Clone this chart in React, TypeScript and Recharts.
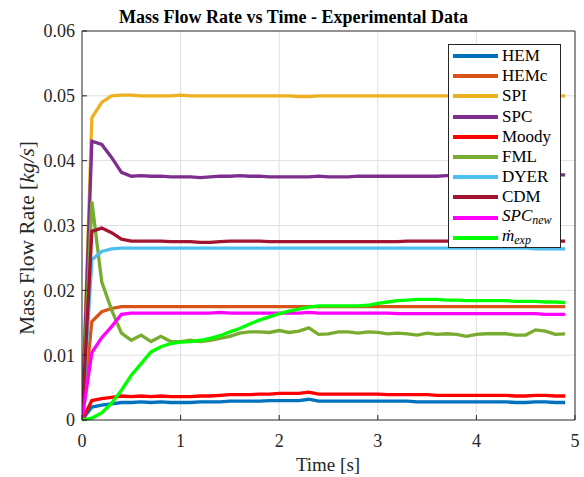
import React from "react";
import {
  LineChart,
  Line,
  XAxis,
  YAxis,
  CartesianGrid,
  Label,
} from "recharts";

const time = [
  0, 0.1, 0.2, 0.3, 0.4, 0.5, 0.6, 0.7, 0.8, 0.9,
  1.0, 1.1, 1.2, 1.3, 1.4, 1.5, 1.6, 1.7, 1.8, 1.9,
  2.0, 2.1, 2.2, 2.3, 2.4, 2.5, 2.6, 2.7, 2.8, 2.9,
  3.0, 3.1, 3.2, 3.3, 3.4, 3.5, 3.6, 3.7, 3.8, 3.9,
  4.0, 4.1, 4.2, 4.3, 4.4, 4.5, 4.6, 4.7, 4.8, 4.9,
];

const hem = [
  0, 0.002, 0.0023, 0.0025, 0.0027, 0.0027, 0.0028, 0.0027, 0.0028, 0.0027,
  0.0027, 0.0027, 0.0028, 0.0028, 0.0028, 0.0029, 0.0029, 0.0029, 0.0029, 0.003,
  0.003, 0.003, 0.003, 0.0032, 0.0029, 0.0029, 0.0029, 0.0029, 0.0029, 0.0029,
  0.0029, 0.0029, 0.0029, 0.0029, 0.0028, 0.0028, 0.0028, 0.0028, 0.0028, 0.0028,
  0.0028, 0.0028, 0.0028, 0.0028, 0.0027, 0.0027, 0.0028, 0.0028, 0.0027, 0.0027,
];

const hemc = [
  0, 0.0152, 0.0167, 0.0172, 0.0175, 0.0175, 0.0175, 0.0175, 0.0175, 0.0175,
  0.0175, 0.0175, 0.0175, 0.0175, 0.0175, 0.0175, 0.0175, 0.0175, 0.0175, 0.0175,
  0.0175, 0.0175, 0.0175, 0.0175, 0.0175, 0.0175, 0.0175, 0.0175, 0.0175, 0.0175,
  0.0175, 0.0175, 0.0175, 0.0175, 0.0175, 0.0175, 0.0175, 0.0175, 0.0175, 0.0175,
  0.0175, 0.0175, 0.0175, 0.0175, 0.0175, 0.0175, 0.0175, 0.0175, 0.0175, 0.0175,
];

const spi = [
  0, 0.0466, 0.049, 0.05, 0.0501, 0.0501, 0.05, 0.05, 0.05, 0.05,
  0.0501, 0.05, 0.05, 0.05, 0.05, 0.05, 0.05, 0.05, 0.05, 0.05,
  0.05, 0.05, 0.0499, 0.0499, 0.05, 0.05, 0.05, 0.05, 0.05, 0.05,
  0.05, 0.05, 0.05, 0.05, 0.05, 0.05, 0.05, 0.05, 0.05, 0.05,
  0.05, 0.05, 0.05, 0.05, 0.05, 0.05, 0.05, 0.05, 0.05, 0.05,
];

const spc = [
  0, 0.043, 0.0425, 0.0405, 0.0382, 0.0376, 0.0377, 0.0376, 0.0376, 0.0375,
  0.0375, 0.0375, 0.0374, 0.0375, 0.0376, 0.0376, 0.0377, 0.0376, 0.0376, 0.0375,
  0.0375, 0.0375, 0.0375, 0.0375, 0.0376, 0.0375, 0.0375, 0.0375, 0.0376, 0.0376,
  0.0376, 0.0376, 0.0376, 0.0376, 0.0376, 0.0376, 0.0376, 0.0377, 0.0377, 0.0377,
  0.0377, 0.0377, 0.0377, 0.0377, 0.0377, 0.0377, 0.0377, 0.0377, 0.0378, 0.0378,
];

const moody = [
  0, 0.003, 0.0033, 0.0035, 0.0037, 0.0036, 0.0037, 0.0036, 0.0037, 0.0036,
  0.0036, 0.0036, 0.0037, 0.0037, 0.0038, 0.0039, 0.0039, 0.0039, 0.004, 0.004,
  0.0041, 0.0041, 0.0041, 0.0043, 0.004, 0.004, 0.004, 0.004, 0.004, 0.004,
  0.004, 0.0039, 0.0039, 0.0039, 0.0039, 0.0039, 0.0038, 0.0038, 0.0038, 0.0038,
  0.0038, 0.0038, 0.0038, 0.0038, 0.0037, 0.0037, 0.0038, 0.0038, 0.0037, 0.0037,
];

const fml = [
  0, 0.0337, 0.0213, 0.017, 0.0134, 0.0123, 0.0131, 0.0121, 0.0129, 0.0121,
  0.0121, 0.0123, 0.0121, 0.0123, 0.0126, 0.0129, 0.0134, 0.0136, 0.0136, 0.0135,
  0.0138, 0.0135, 0.0137, 0.0142, 0.0132, 0.0133, 0.0136, 0.0136, 0.0134, 0.0136,
  0.0135, 0.0133, 0.0134, 0.0133, 0.0131, 0.0134, 0.0132, 0.0133, 0.0132, 0.0129,
  0.0132, 0.0133, 0.0133, 0.0133, 0.0131, 0.0131, 0.0139, 0.0137, 0.0132, 0.0133,
];

const dyer = [
  0, 0.0247, 0.026, 0.0264, 0.0265, 0.0265, 0.0265, 0.0265, 0.0265, 0.0265,
  0.0265, 0.0265, 0.0265, 0.0265, 0.0265, 0.0265, 0.0265, 0.0265, 0.0265, 0.0265,
  0.0265, 0.0265, 0.0265, 0.0265, 0.0265, 0.0265, 0.0265, 0.0265, 0.0265, 0.0265,
  0.0265, 0.0265, 0.0265, 0.0265, 0.0265, 0.0265, 0.0265, 0.0265, 0.0265, 0.0265,
  0.0265, 0.0265, 0.0265, 0.0265, 0.0265, 0.0265, 0.0264, 0.0264, 0.0264, 0.0264,
];

const cdm = [
  0, 0.0291, 0.0296, 0.0289, 0.0279, 0.0276, 0.0276, 0.0276, 0.0276, 0.0275,
  0.0275, 0.0275, 0.0274, 0.0274, 0.0275, 0.0276, 0.0276, 0.0276, 0.0276, 0.0275,
  0.0275, 0.0275, 0.0275, 0.0275, 0.0275, 0.0275, 0.0275, 0.0275, 0.0275, 0.0275,
  0.0275, 0.0275, 0.0275, 0.0276, 0.0276, 0.0276, 0.0276, 0.0276, 0.0276, 0.0276,
  0.0276, 0.0276, 0.0276, 0.0276, 0.0276, 0.0276, 0.0276, 0.0276, 0.0276, 0.0276,
];

const spcNew = [
  0, 0.0104, 0.0127, 0.0144, 0.0163, 0.0165, 0.0165, 0.0165, 0.0165, 0.0165,
  0.0165, 0.0165, 0.0165, 0.0165, 0.0166, 0.0165, 0.0165, 0.0165, 0.0165, 0.0165,
  0.0165, 0.0165, 0.0165, 0.0166, 0.0165, 0.0165, 0.0165, 0.0165, 0.0165, 0.0165,
  0.0165, 0.0165, 0.0164, 0.0164, 0.0164, 0.0164, 0.0164, 0.0164, 0.0164, 0.0164,
  0.0164, 0.0164, 0.0164, 0.0164, 0.0164, 0.0164, 0.0164, 0.0163, 0.0163, 0.0163,
];

const mExp = [
  0, 0.0003, 0.0011, 0.0026, 0.0046, 0.0069, 0.0087, 0.0105, 0.0113, 0.0118,
  0.012, 0.0121, 0.0123, 0.0126, 0.013, 0.0136, 0.0141, 0.0148, 0.0154, 0.0159,
  0.0164, 0.0168, 0.0171, 0.0174, 0.0176, 0.0176, 0.0176, 0.0176, 0.0176, 0.0177,
  0.018, 0.0182, 0.0184, 0.0185, 0.0186, 0.0186, 0.0186, 0.0185, 0.0185, 0.0184,
  0.0184, 0.0184, 0.0184, 0.0184, 0.0183, 0.0183, 0.0183, 0.0182, 0.0182, 0.0181,
];

const xTicks = [0, 1, 2, 3, 4, 5];
const yTicks = [0, 0.01, 0.02, 0.03, 0.04, 0.05, 0.06];

const SERIES = [
  { key: "hem", name: "HEM", color: "#0072BD", values: hem },
  { key: "hemc", name: "HEMc", color: "#D95319", values: hemc },
  { key: "spi", name: "SPI", color: "#EDB120", values: spi },
  { key: "spc", name: "SPC", color: "#7E2F8E", values: spc },
  { key: "moody", name: "Moody", color: "#FF0000", values: moody },
  { key: "fml", name: "FML", color: "#77AC30", values: fml },
  { key: "dyer", name: "DYER", color: "#4DBEEE", values: dyer },
  { key: "cdm", name: "CDM", color: "#A2142F", values: cdm },
  { key: "spcNew", name: "SPCnew", color: "#FF00FF", values: spcNew },
  { key: "mExp", name: "mexp", color: "#00FF00", values: mExp },
];

const data = time.map((t, i) => {
  const row: Record<string, number> = { t };
  SERIES.forEach((s) => (row[s.key] = s.values[i]));
  return row;
});

const FONT = "'Liberation Serif', 'Times New Roman', serif";
const AXIS = "#262626";

function legendLabel(name: string) {
  if (name === "SPCnew")
    return (
      <span style={{ fontStyle: "italic" }}>
        SPC<sub style={{ fontSize: 12, verticalAlign: -3 }}>new</sub>
      </span>
    );
  if (name === "mexp")
    return (
      <span style={{ fontStyle: "italic" }}>
        ṁ<sub style={{ fontSize: 12, verticalAlign: -3 }}>exp</sub>
      </span>
    );
  return name;
}

function LegendBox() {
  return (
    <div
      style={{
        position: "absolute",
        left: 448,
        top: 44,
        width: 113,
        height: 204,
        boxSizing: "border-box",
        border: `1px solid ${AXIS}`,
        background: "#fff",
        padding: "1px 0 0 4px",
        fontFamily: FONT,
        fontSize: 17,
        color: "#000",
      }}
    >
      {SERIES.map((s) => (
        <div
          key={s.key}
          style={{ display: "flex", alignItems: "center", height: 20.2 }}
        >
          <div
            style={{ width: 45, height: 4, background: s.color, marginRight: 4 }}
          />
          <span style={{ lineHeight: "18px" }}>{legendLabel(s.name)}</span>
        </div>
      ))}
    </div>
  );
}

export default function App() {
  return (
    <div
      style={{
        position: "absolute",
        left: 0,
        top: 0,
        width: 584,
        height: 477,
        background: "#fff",
        fontFamily: FONT,
      }}
    >
      <div
        style={{
          position: "absolute",
          left: 0,
          width: 587,
          top: 6,
          textAlign: "center",
          fontWeight: "bold",
          fontSize: 18,
          lineHeight: "22px",
          color: "#000",
        }}
      >
        Mass Flow Rate vs Time - Experimental Data
      </div>
      <LineChart
        width={584}
        height={477}
        data={data}
        margin={{ top: 30, right: 8, bottom: 17, left: 8 }}
      >
        <CartesianGrid
          xAxisId="b"
          yAxisId="l"
          stroke="#dfdfdf"
          strokeWidth={1}
          horizontalValues={[0.01, 0.02, 0.03, 0.04, 0.05]}
          verticalValues={[1, 2, 3, 4]}
        />
        <XAxis
          xAxisId="b"
          dataKey="t"
          type="number"
          domain={[0, 5]}
          ticks={xTicks}
          allowDataOverflow
          stroke={AXIS}
          tickSize={-5}
          tickMargin={19}
          tick={{ fontSize: 18, fill: AXIS, fontFamily: FONT }}
          height={40}
        >
          <Label
            content={() => (
              <text
                x={328}
                y={471}
                textAnchor="middle"
                style={{ fontSize: 19, fill: AXIS, fontFamily: FONT }}
              >
                Time [s]
              </text>
            )}
          />
        </XAxis>
        <XAxis
          xAxisId="t"
          orientation="top"
          dataKey="t"
          type="number"
          domain={[0, 5]}
          ticks={xTicks}
          allowDataOverflow
          stroke={AXIS}
          tickSize={-5}
          tick={false}
          height={1}
        />
        <YAxis
          yAxisId="l"
          type="number"
          domain={[0, 0.06]}
          ticks={yTicks}
          stroke={AXIS}
          tickSize={-5}
          tickMargin={12}
          width={74}
          tickFormatter={(v: number) => (v === 0 ? "0" : String(v))}
          tick={{ fontSize: 18, fill: AXIS, fontFamily: FONT }}
        >
          <Label
            content={() => (
              <text
                x={34}
                y={238}
                transform="rotate(-90 34 238)"
                textAnchor="middle"
                style={{ fontSize: 21.5, fill: AXIS, fontFamily: FONT }}
              >
                Mass Flow Rate [<tspan fontStyle="italic">kg/s</tspan>]
              </text>
            )}
          />
        </YAxis>
        <YAxis
          yAxisId="r"
          orientation="right"
          type="number"
          domain={[0, 0.06]}
          ticks={yTicks}
          stroke={AXIS}
          tickSize={-5}
          tick={false}
          width={1}
        />
        {SERIES.map((s) => (
          <Line
            key={s.key}
            xAxisId="b"
            yAxisId="l"
            type="linear"
            dataKey={s.key}
            name={s.name}
            stroke={s.color}
            strokeWidth={3.3}
            dot={false}
            activeDot={false}
            isAnimationActive={false}
          />
        ))}
      </LineChart>
      <LegendBox />
    </div>
  );
}
